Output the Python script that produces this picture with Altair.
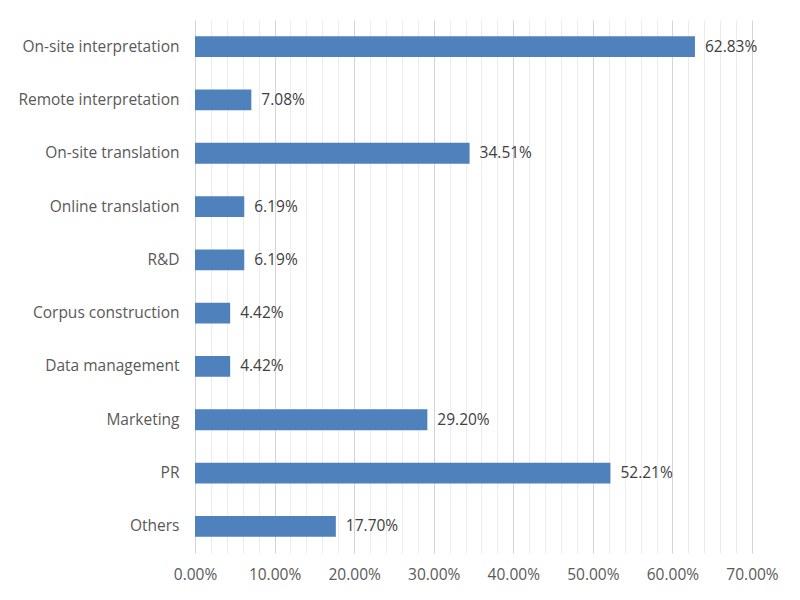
import altair as alt
import pandas as pd

categories = ["On-site interpretation", "Remote interpretation", "On-site translation",
              "Online translation", "R&D", "Corpus construction", "Data management",
              "Marketing", "PR", "Others"]
values = [0.6283, 0.0708, 0.3451, 0.0619, 0.0619, 0.0442, 0.0442, 0.2920, 0.5221, 0.1770]

df = pd.DataFrame({"category": categories, "value": values})

FONT = "Open Sans"
grid_vals = [round(i * 0.02, 2) for i in range(36)]

x = alt.X("value:Q", scale=alt.Scale(domain=[0, 0.7], nice=False),
          axis=alt.Axis(values=grid_vals, title=None, ticks=False, domain=False,
                        labelOverlap=False, labelFlush=False,
                        labelExpr="round(datum.value*100) % 10 == 0 ? format(datum.value, '.2%') : ''",
                        labelFont=FONT, labelFontSize=15.5, labelColor="#595959",
                        labelPadding=14,
                        gridColor={"condition": {"test": "round(datum.value*100) % 10 == 0", "value": "#d4d4d4"},
                                   "value": "#ececec"},
                        gridWidth=1))
y = alt.Y("category:N", sort=categories,
          scale=alt.Scale(paddingInner=0.61, paddingOuter=0.305),
          axis=alt.Axis(title=None, ticks=False, domain=False, grid=False,
                        labelFont=FONT,
                        labelFontSize=15.5, labelColor="#595959", labelPadding=16,
                        labelLimit=300))

base = alt.Chart(df).encode(x=x, y=y)
bars = base.mark_bar(color="#4f81bd")
labels = base.mark_text(align="left", baseline="middle", dx=10, font=FONT,
                        fontSize=15.5, color="#404040").encode(
    text=alt.Text("value:Q", format=".2%"))

chart = (bars + labels).properties(
    width=557, height=533,
    background="white",
    autosize=alt.AutoSizeParams(type="none"),
    padding={"left": 187, "top": 12, "right": 40, "bottom": 40},
).configure_view(stroke="transparent").configure_axis(domain=False)

chart.save("out.html", embed_options={"renderer": "svg", "actions": False})
